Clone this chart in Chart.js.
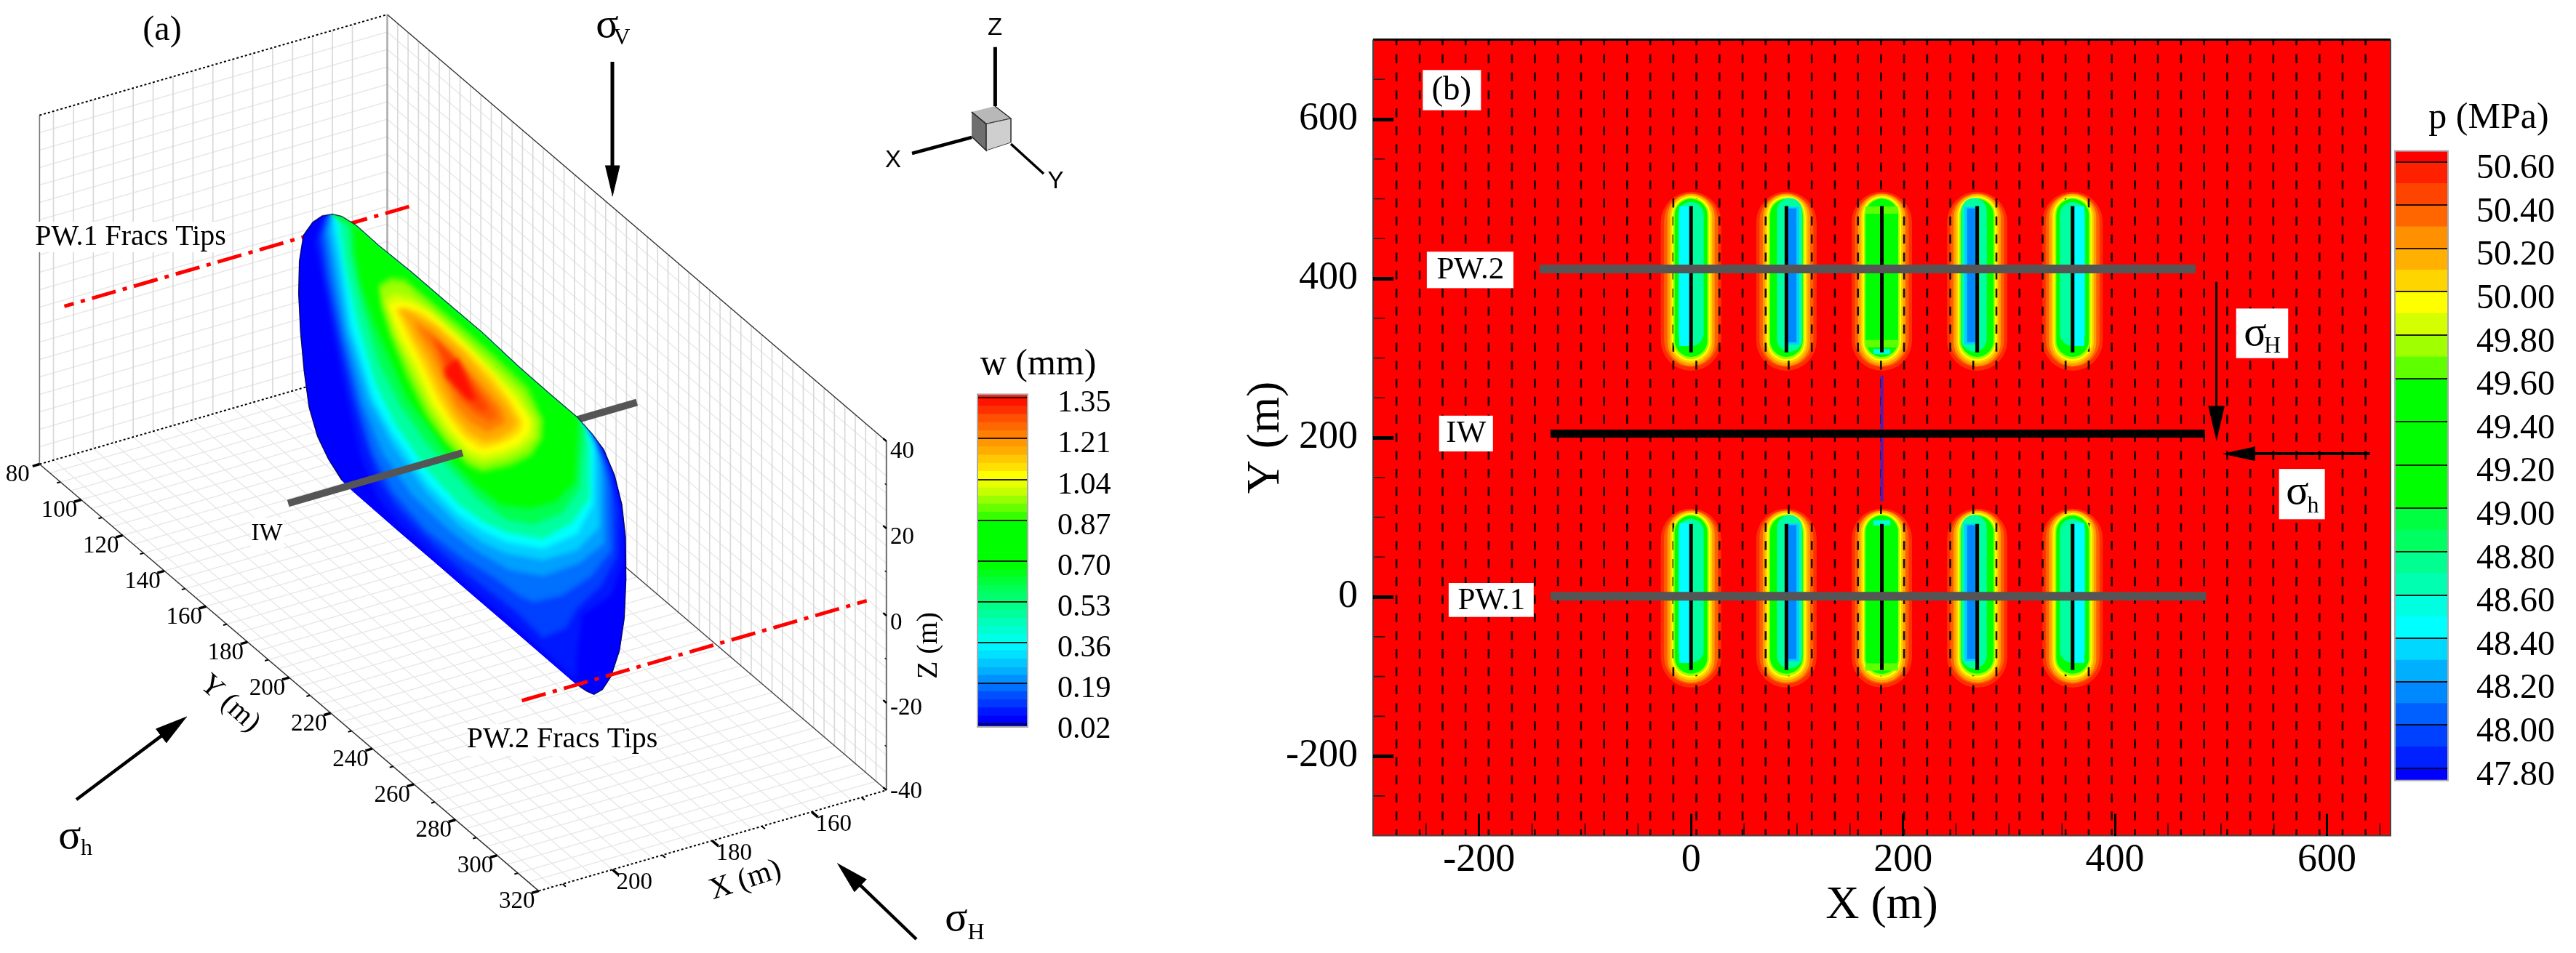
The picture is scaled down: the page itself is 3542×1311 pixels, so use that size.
<!DOCTYPE html>
<html><head><meta charset="utf-8">
<style>html,body{margin:0;padding:0;background:#fff;width:3542px;height:1311px;overflow:hidden}canvas{position:absolute;display:block}</style>
<script src="https://cdn.jsdelivr.net/npm/chart.js@4"></script>
</head><body>
<canvas id="a" width="1680" height="1311" style="left:0;top:0"></canvas>
<canvas id="wbar" width="200" height="1311" style="left:1343px;top:0"></canvas>
<canvas id="b" width="1612" height="1311" style="left:1680px;top:0"></canvas>
<canvas id="pbar" width="250" height="1311" style="left:3292px;top:0"></canvas>
<script>
const SERIF='"Liberation Serif"', SANS='"Liberation Sans"';

/* ---------- panel (a) axes ---------- */
const xAxisTicks=[160,180,200];
const yAxisTicks=[80,100,120,140,160,180,200,220,240,260,280,300,320];
const zAxisTicks=[40,20,0,-20,-40];
const zLabelDrop=[14,12,10,7,2];
const yMinorTicks=[90,110,130,150,170,190,210,230,250,270,290,310];
const xMinorTicks=[150,170,190,210];
const zMinorTicks=[30,10,-10,-30];
const gridX=[152,156,160,164,168,172,176,180,184,188,192,196,200,204,208,212];
const gridY=[85,90,95,100,105,110,115,120,125,130,135,140,145,150,155,160,165,170,175,180,185,190,195,200,205,210,215,220,225,230,235,240,245,250,255,260,265,270,275,280,285,290,295,300,305,310,315];
const gridZ=[-36,-32,-28,-24,-20,-16,-12,-8,-4,0,4,8,12,16,20,24,28,32,36];

/* wells in model coordinates (X, Y, Z in m) */
const pw1Tips=[[214,90,0],[144.8,90,0]];
const pw2Tips=[[214,310,-0.7],[144.8,310,-0.7]];
const iwBack=[[180,200,0],[145,200,0]];
const iwFront=[[215,200,0],[180,200,0]];

/* fracture width contours, traced in fracture-plane units */
const fracOutline=[[230,55],[270,62],[330,90],[420,150],[560,235],[700,325],[850,420],[1000,525],[1130,610],[1240,680],[1300,730],[1350,780],[1395,860],[1425,950],[1440,1050],[1442,1180],[1435,1300],[1415,1400],[1380,1480],[1345,1520],[1310,1535],[1280,1525],[1240,1505],[1100,1415],[950,1318],[800,1222],[650,1125],[500,1029],[310,905],[270,875],[215,810],[170,740],[135,650],[115,540],[100,420],[92,300],[95,200],[112,120],[150,80],[190,60]];
const fracTopEdge=[[230,55],[270,62],[330,90],[420,150],[560,235],[700,325],[850,420],[1000,525],[1130,610],[1240,680]];
const fracLower=[
 [[1340,775],[1390,860],[1420,950],[1428,1000],[1425,1130],[1380,1230],[1260,1290],[1240,1400],[1235,1490],[1100,1400],[1000,1330],[800,1205],[650,1108],[500,1000],[420,930],[350,800],[300,640],[240,440],[190,250],[160,140],[190,70]],
 [[1325,755],[1375,850],[1400,960],[1400,1110],[1340,1200],[1240,1270],[1195,1330],[1100,1360],[1000,1285],[800,1170],[650,1075],[500,960],[430,880],[370,760],[315,620],[255,430],[205,250],[180,130],[205,65]],
 [[1310,745],[1355,830],[1375,900],[1380,1090],[1300,1170],[1180,1230],[1060,1250],[1000,1230],[900,1175],[760,1110],[620,1030],[480,910],[400,790],[340,640],[270,430],[220,250],[195,120],[215,62]],
 [[1295,730],[1335,800],[1350,860],[1350,1070],[1250,1130],[1100,1170],[960,1150],[820,1090],[700,1020],[560,920],[440,790],[360,640],[285,430],[235,230],[210,110],[225,60]],
 [[1280,715],[1315,780],[1330,820],[1330,1020],[1240,1090],[1100,1120],[950,1100],[850,1065],[750,1010],[620,910],[480,765],[385,630],[295,410],[250,210],[225,100],[233,60]],
 [[1265,705],[1305,760],[1310,780],[1305,950],[1240,1040],[1100,1085],[950,1065],[850,1030],[750,980],[620,880],[480,730],[400,620],[310,400],[270,200],[245,100],[240,70]],
 [[1290,760],[1290,930],[1220,1005],[1100,1055],[950,1035],[850,1000],[750,945],[620,840],[490,700],[410,575],[340,400],[285,220],[262,100],[260,72]],
 [[1270,720],[1250,900],[1180,975],[1060,1010],[950,995],[830,930],[720,840],[620,760],[510,640],[430,520],[360,350],[310,180],[300,85]],
 [[1245,690],[1230,880],[1150,940],[1050,960],[930,950],[820,890],[720,810],[640,720],[540,620],[470,500],[410,400],[350,270],[325,170],[320,95]]
];
const fracInner=[
 [[420,275],[470,250],[530,255],[600,300],[760,400],[900,490],[1040,590],[1100,690],[1095,750],[1050,800],[970,830],[850,850],[790,830],[700,760],[620,680],[540,560],[470,430],[430,330]],
 [[430,285],[475,265],[530,270],[600,315],[750,410],[890,505],[1020,600],[1085,690],[1080,745],[1040,785],[960,815],[850,835],[790,815],[700,745],[630,665],[555,550],[480,420],[440,330]],
 [[450,320],[490,300],[545,310],[620,345],[750,430],[880,520],[1000,610],[1060,690],[1060,740],[1010,775],[940,800],[850,815],[790,795],[710,730],[640,650],[570,540],[490,420]],
 [[465,335],[510,325],[570,335],[640,365],[760,445],[870,530],[985,625],[1045,690],[1040,730],[990,765],[920,785],[850,795],[790,775],[720,715],[650,635],[585,525],[510,420]],
 [[490,350],[540,345],[600,360],[680,405],[790,480],[890,555],[970,635],[1015,695],[1005,725],[960,750],[890,770],[845,775],[780,745],[725,695],[665,620],[600,515],[530,410]],
 [[510,345],[570,365],[650,400],[770,480],[880,575],[950,640],[990,695],[970,720],[920,745],[860,755],[790,725],[735,675],[680,600],[620,500],[560,420]],
 [[570,385],[630,415],[730,480],[850,585],[925,650],[945,695],[915,710],[870,725],[800,695],[745,650],[700,580],[640,480],[590,420]],
 [[620,415],[700,475],[815,575],[895,650],[910,680],[880,695],[820,670],[755,625],[710,560],[665,470]],
 [[650,440],[720,490],[790,560],[860,640],[870,665],[825,655],[765,610],[720,550],[685,490]],
 [[745,500],[770,540],[820,625],[790,625],[745,590],[700,555],[695,530]]
];
const fracLowerColors=['#0018ff','#0040ff','#0070ff','#00a0ff','#00d0ff','#00ffff','#00ffa0','#00ff50','#00ff00'];
const fracInnerColors=['#60ff00','#a0ff00','#d4ff00','#ffff00','#ffd500','#ffaa00','#ff8000','#ff6000','#ff4000','#ff1000'];

/* w colour bar */
const wTickValues=[0.02,0.19,0.36,0.53,0.70,0.87,1.04,1.21,1.38];
const wTickLabels=['0.02','0.19','0.36','0.53','0.70','0.87','1.04','1.21','1.35'];
const wBandEdges=[0.008,0.02,0.054,0.088,0.122,0.156,0.19,0.224,0.258,0.292,0.326,0.36,0.394,0.428,0.462,0.496,0.53,0.564,0.598,0.632,0.666,0.70,0.734,0.768,0.802,0.836,0.87,0.904,0.938,0.972,1.006,1.04,1.074,1.108,1.142,1.176,1.21,1.244,1.278,1.312,1.346,1.395];
const wBandColors=['#0000ff','#0000ff','#0018ff','#0038ff','#0050ff','#0070ff','#0090ff','#00b0ff','#00c8ff','#00e0ff','#00f4ff','#00ffe8','#00ffd0','#00ffb8','#00ff9c','#00ff88','#00ff70','#00ff58','#00ff38','#00ff18','#00ff00','#00ff00','#00ff00','#00ff00','#00ff00','#00ff00','#38ff00','#68ff00','#98ff00','#c8ff00','#e8ff00','#ffff00','#ffe000','#ffc800','#ffac00','#ff9800','#ff8000','#ff6800','#ff5000','#ff3000','#ff1400'];

/* ---------- panel (b) data ---------- */
const bXTicks=[-200,0,200,400,600];
const bYTicks=[-200,0,200,400,600];
const bXMinor=[-250,-150,-100,-50,50,100,150,250,300,350,450,500,550,650];
const bYMinor=[-250,-150,-100,-50,50,100,150,250,300,350,450,500,550,650];
const fracX=[0,90,180,270,360];
const fracUpperSpan=[307,491];
const fracLowerSpan=[-92,91.5];
const haloUpper=[[322,471],[322.5,473],[320,476.5],[320,478],[320.5,479],[321,479],[322,479.5]];
const haloLower=[[-76,73],[-75.5,75],[-78,78.5],[-78,80],[-77.5,81],[-77,81],[-76,81.5]];
const haloColors=['#ff3000','#ff6000','#ffa000','#ffd000','#ffff00','#a0ff00','#00ff00'];
const haloWidths=[83,74,65,58,53,49,45];
const vectorColumns=[-278,-256,-234.5,-212.7,-191,-169,-147.4,-125.6,-103.8,-82,-60.3,-38.5,-16.7,5,26.8,48.6,70.4,92.1,113.9,135.7,157.5,179.2,201,222.8,244.6,266.3,288.1,309.9,331.7,353.4,375.2,397,418.8,440.5,462.3,484.1,505.9,527.6,549.4,571.2,593,614.7,636.5];
const pw2Bar=[[-143,412],[476,412]];
const iwBar=[[-132.6,205],[484.8,205]];
const pw1Bar=[[-132.6,0.8],[486,0.8]];
const iwFrac=[[180,278],[180,120]];
const sigHShaft=[[495.6,395.6],[495.6,225]];
const sigHHead=[[488.1,239.4],[503.1,239.4],[495.6,196.4]];
const sigLowShaft=[[640.5,180],[520,180]];
const sigLowHead=[[531.7,188.7],[531.7,171.3],[501.7,180]];
/* inner bands: x, low, high */
const innerRound=[[0,331,480],[93,324,485],[267,324,485],[360,331,480],
                  [0,-67,82],[93,-74,87],[267,-74,87],[360,-67,82]];
const innerRoundColor='#00ffa0';
const innerCyan=[[-5.7,315,491],[365.7,315,491],[-5.7,-83,93],[365.7,-83,93]];
const innerSky=[[96.3,317,490],[263.7,317,490],[96.3,-81,92],[263.7,-81,92]];
const innerBlue=[[95.7,320,488],[264.3,320,488],[95.7,-78,90],[264.3,-78,90]];
const midLight=[[[164.4,485.8],[195.3,485.8]],[[164.4,318],[195.3,318]],[[164.4,-88],[195.3,-88]]];
const midCyan=[[[172,308],[188,308]],[[172,93],[188,93]]];

/* p colour bar */
const pTickValues=[47.8,48.0,48.2,48.4,48.6,48.8,49.0,49.2,49.4,49.6,49.8,50.0,50.2,50.4,50.6];
const pBandEdges=[47.744,47.8,47.9,48.0,48.1,48.2,48.3,48.4,48.5,48.6,48.7,48.8,48.9,49.0,49.6,49.7,49.8,49.9,50.0,50.1,50.2,50.3,50.4,50.5,50.6,50.65];
const pBandColors=['#0000ff','#0020ff','#0040ff','#0060ff','#0088ff','#00b0ff','#00d8ff','#00ffff','#00ffe0','#00ffb0','#00ff90','#00ff60','#00ff40','#00ff00','#60ff00','#a0ff00','#d4ff00','#ffff00','#ffd500','#ffb000','#ff9000','#ff6600','#ff4400','#ff2000','#ff0000'];

/* ---------- helpers ---------- */
Chart.defaults.animation=false;
Chart.defaults.responsive=false;
Chart.defaults.devicePixelRatio=1;
Chart.defaults.plugins.legend.display=false;
Chart.defaults.plugins.tooltip.enabled=false;
Chart.defaults.events=[];

const P=(X,Y,Z)=>[532.5+(X-145)*-6.85+(Y-80)*2.86, 20+(X-145)*1.985+(Y-80)*2.446+(40-Z)*6];
const pts=a=>a.map(p=>({x:p[0],y:p[1]}));
function line(a,color,width,o){return Object.assign({type:'line',data:pts(a),borderColor:color,borderWidth:width,pointRadius:0,tension:0,fill:false,clip:false},o||{});}
function poly(a,color,o){return Object.assign({type:'line',data:pts(a),borderColor:color,backgroundColor:color,borderWidth:1,pointRadius:0,tension:0,fill:'shape',clip:false},o||{});}
function segs(list){const out=[];list.forEach(s=>{s.forEach(p=>out.push(p));out.push([s[s.length-1][0],null]);});return out;}
function arrow(tail,tip,len,wid,lw){
  const dx=tip[0]-tail[0],dy=tip[1]-tail[1],n=Math.hypot(dx,dy),ux=dx/n,uy=dy/n;
  const bx=tip[0]-ux*len,by=tip[1]-uy*len;
  return [line([tail,[tip[0]-ux*len*0.6,tip[1]-uy*len*0.6]],'#000',lw),
          poly([[bx-uy*wid/2,by+ux*wid/2],[bx+uy*wid/2,by-ux*wid/2],tip],'#000')];
}
const T=(t,x,y,size,o)=>Object.assign({t,x,y,size},o||{});
const textPlugin={id:'texts',afterDatasetsDraw(chart,args,opts){
  const ctx=chart.ctx,sx=opts.data?chart.scales.x:null,sy=opts.data?chart.scales.y:null;
  const X=v=>sx?sx.getPixelForValue(v):v,Y=v=>sy?sy.getPixelForValue(v):v;
  (opts.boxes||[]).forEach(b=>{const x0=X(b[0]),x1=X(b[1]),y0=Y(b[2]),y1=Y(b[3]);ctx.fillStyle='#fff';ctx.fillRect(Math.min(x0,x1),Math.min(y0,y1),Math.abs(x1-x0),Math.abs(y1-y0));});
  (opts.items||[]).forEach(i=>{ctx.save();ctx.translate(X(i.x),Y(i.y));if(i.rot)ctx.rotate(i.rot*Math.PI/180);
    ctx.font=i.size+'px '+(i.font||SERIF);ctx.fillStyle='#000';ctx.textAlign=i.align||'center';ctx.textBaseline='middle';ctx.fillText(i.t,0,0);ctx.restore();});
}};
const framePlugin={id:'frame',afterDraw(chart,args,opts){if(!opts.color)return;const a=chart.chartArea,c=chart.ctx;c.save();c.strokeStyle=opts.color;c.lineWidth=2;c.strokeRect(a.left+1,a.top,a.right-a.left-2,a.bottom-a.top);c.restore();}};
/* softens the contour steps inside the fracture outline */
const softPlugin={id:'soft',afterDatasetDraw(chart,args){
  const d=chart.data.datasets[args.index],c=chart.ctx;
  if(d.softStart){c.save();c.beginPath();args.meta.data.forEach((e,i)=>{if(i)c.lineTo(e.x,e.y);else c.moveTo(e.x,e.y);});c.closePath();c.clip();c.filter='blur(3px)';}
  if(d.softEnd){c.restore();}
}};
Chart.register(textPlugin,framePlugin,softPlugin);

/* ---------- panel (a) ---------- */
const XA=145,XB=214.8,YA=80,YB=320,ZA=-40,ZB=40;
const ds=[];
const wallLines=[];
gridZ.forEach(z=>{wallLines.push([P(XA,YA,z),P(XB,YA,z)]);wallLines.push([P(XA,YA,z),P(XA,YB,z)]);});
const floorLines=[];
gridX.forEach(x=>floorLines.push([P(x,YA,ZA),P(x,YB,ZA)]));
gridY.forEach(y=>floorLines.push([P(XA,y,ZA),P(XB,y,ZA)]));
const vertLines=[];
gridX.forEach(x=>vertLines.push([P(x,YA,ZA),P(x,YA,ZB)]));
gridY.forEach(y=>vertLines.push([P(XA,y,ZA),P(XA,y,ZB)]));
ds.push(line(segs(wallLines),'#e8e8e8',1.5));
ds.push(line(segs(floorLines),'#e6e6e6',1.3));
ds.push(line(segs(vertLines),'#d8d8d8',1.6));
/* box edges */
ds.push(line([P(XA,YA,ZA),P(XA,YA,ZB)],'#aaa',2.5));
ds.push(line([P(XB,YA,ZA),P(XB,YA,ZB)],'#777',1.6));
ds.push(line([P(XB,YA,ZB),P(XA,YA,ZB)],'#000',2,{borderDash:[3,3]}));
ds.push(line([P(XA,YA,ZB),P(XA,YB,ZB)],'#333',1.5));
ds.push(line([P(XB,YA,ZA),P(XA,YA,ZA)],'#000',2,{borderDash:[3,3]}));
ds.push(line([P(XA,YA,ZA),P(XA,YB,ZA)],'#444',1.5));
ds.push(line([P(XA,YB,ZA),P(XA,YB,ZB)],'#777',2.2));
ds.push(line([P(XB,YA,ZA),P(XB,YB,ZA)],'#333',1.5));
ds.push(line([P(XB,YB,ZA),P(XA,YB,ZA)],'#000',2,{borderDash:[3,3]}));
/* axis ticks */
ds.push(line(segs(yAxisTicks.map(y=>[P(XB,y,ZA),P(XB+1.4,y,ZA)])),'#000',3.5));
ds.push(line(segs(yMinorTicks.map(y=>[P(XB,y,ZA),P(XB+0.7,y,ZA)])),'#000',2));
ds.push(line(segs(xAxisTicks.map(x=>[P(x,YB,ZA),P(x,YB+3,ZA)])),'#000',3.5));
ds.push(line(segs(xMinorTicks.map(x=>[P(x,YB,ZA),P(x,YB+1.5,ZA)])),'#000',2));
ds.push(line(segs(zAxisTicks.map(z=>[P(XA,YB,z),P(XA,YB-1.6,z)])),'#000',2.5));
ds.push(line(segs(zMinorTicks.map(z=>[P(XA,YB,z),P(XA,YB-0.8,z)])),'#333',1.6));
/* PW.1 tips and well behind the fracture */
const redDash={borderDash:[34,10,6,10],borderCapStyle:'butt'};
ds.push(line(pw1Tips.map(p=>P(p[0],p[1],p[2])).reverse(),'#ff0000',5,Object.assign({},redDash)));
ds.push(line(iwBack.map(p=>P(p[0],p[1],p[2])),'#555',10));
/* fracture */
const fr={xAxisID:'fx',yAxisID:'fy'};
ds.push(poly(fracOutline,'#0000ff',Object.assign({softStart:true},fr)));
fracLower.forEach((low,i)=>ds.push(poly(fracTopEdge.concat(low),fracLowerColors[i],fr)));
fracInner.forEach((c,i)=>ds.push(poly(c,fracInnerColors[i],Object.assign({softEnd:i===fracInner.length-1},fr))));
ds.push(line(fracOutline.slice(29).concat(fracOutline.slice(0,23)),'rgba(0,0,0,.55)',1.5,fr));
/* front well, PW.2 tips */
ds.push(line(iwFront.map(p=>P(p[0],p[1],p[2])),'#555',10));
ds.push(line(pw2Tips.map(p=>P(p[0],p[1],p[2])),'#ff0000',5,Object.assign({},redDash)));
/* stress arrows */
arrow([842,85],[842,270],42,20,5).forEach(d=>ds.push(d));
arrow([105,1100],[257,986],44,24,4.5).forEach(d=>ds.push(d));
arrow([1260,1292],[1151.5,1187.5],44,24,4.5).forEach(d=>ds.push(d));
/* orientation triad */
ds.push(line([[1368.4,64.7],[1368.4,146]],'#000',5));
ds.push(line([[1336,189],[1254,211]],'#000',4.5));
ds.push(line([[1390,198],[1435,239]],'#000',3.5));
ds.push(poly([[1368,146],[1390,163],[1356,170.5],[1336,154]],'#b8b8b8',{borderColor:'#222',borderWidth:1.5}));
ds.push(poly([[1356,170.5],[1390,163],[1390,196],[1356,207]],'#cfcfcf',{borderColor:'#444',borderWidth:1}));
ds.push(poly([[1336,154],[1356,170.5],[1356,207],[1336,188]],'#6f6f6f',{borderColor:'#222',borderWidth:1.5}));

const aTexts=[
 T('(a)',223,42,48),
 T('σ',835,36,58),T('V',855,53,32),
 T('σ',96,1152,58),T('h',119,1168,32),
 T('σ',1315,1265,58),T('H',1342,1284,32),
 T('PW.1 Fracs Tips',179.5,326,40),
 T('PW.2 Fracs Tips',773,1017,40),
 T('IW',367,734,34),
 T('Y (m)',316,968,40,{rot:42}),
 T('X (m)',1025,1211,42,{rot:-18}),
 T('Z (m)',1277,888,40,{rot:-90}),
 T('Z',1368,39,33,{font:SANS}),T('X',1228,221,33,{font:SANS}),T('Y',1451.5,250,33,{font:SANS})
];
yAxisTicks.forEach(y=>{const p=P(XB,y,ZA);aTexts.push(T(String(y),p[0]-30,p[1]+15,33));});
xAxisTicks.forEach(x=>{const p=P(x,YB,ZA);aTexts.push(T(String(x),p[0]+30,p[1]+18,33));});
zAxisTicks.forEach((z,i)=>{const p=P(XA,YB,z);aTexts.push(T(String(z),1224,p[1]+zLabelDrop[i],33,{align:'left'}));});

new Chart(document.getElementById('a'),{type:'line',data:{datasets:ds.slice().reverse()},options:{
 layout:{padding:0},
 scales:{
  x:{type:'linear',display:false,min:0,max:1680},
  y:{type:'linear',display:false,min:0,max:1311,reverse:true},
  fx:{type:'linear',axis:'x',display:false,min:-1140,max:3900},
  fy:{type:'linear',axis:'y',display:false,min:-604.8,max:2331.84,reverse:true}
 },
 plugins:{texts:{items:aTexts,boxes:[[50,309,305,347],[644,902,996,1040],[345,390,712,756]]}}
}});

/* ---------- colour bars ---------- */
function colorBar(id,edges,colors,tickValues,fmt,width,fontSize,pad,offset,title,titleX,titleY,top,bottom,barW){
 const datasets=colors.map((c,i)=>({data:[[edges[i],edges[i+1]]],backgroundColor:c,borderWidth:0,grouped:false,barPercentage:1,categoryPercentage:1}));
 new Chart(document.getElementById(id),{type:'bar',data:{labels:[title],datasets},options:{
  layout:{padding:{top:top,bottom:bottom,left:0,right:0}},
  scales:{
   x:{display:false},
   y:{position:'right',min:edges[0],max:edges[edges.length-1],
      afterBuildTicks:s=>{s.ticks=tickValues.map(value=>({value}));},
      afterFit:s=>{s.width=width-barW;s.paddingTop=0;s.paddingBottom=0;},
      border:{display:false},
      grid:{display:true,drawTicks:false,color:'rgba(0,0,0,.85)',lineWidth:2,z:1},
      ticks:{autoSkip:false,padding:pad,labelOffset:offset,color:'#000',font:{family:'Liberation Serif',size:fontSize},callback:fmt}}
  },
  plugins:{frame:{color:'#aaa'},texts:{items:[T(title,titleX,titleY,50)]}}
 }});
}
colorBar('wbar',wBandEdges,wBandColors,wTickValues,(v,i)=>wTickLabels[i],200,42,40,8,'w (mm)',84.5,502,542.4,311,71);
colorBar('pbar',pBandEdges,pBandColors,pTickValues,v=>v.toFixed(2),250,48,38,10,'p (MPa)',130,163,207.6,237.3,75);

/* ---------- panel (b) ---------- */
const bd=[];
bd.push(line([[-300,700],[660,700]],'#ff0000',0,{fill:{value:-300},backgroundColor:'#ff0000'}));
function strip(list,color,width,cap){
 const s=[];list.forEach(r=>{s.push([[r[0],r[1]],[r[0],r[2]]]);});
 return line(segs(s),color,width,{borderCapStyle:cap});
}
const haloSeg=i=>{const s=[];fracX.forEach(x=>{s.push([x,haloUpper[i][0],haloUpper[i][1]]);s.push([x,haloLower[i][0],haloLower[i][1]]);});return s;};
for(let i=0;i<5;i++) bd.push(strip(haloSeg(i),haloColors[i],haloWidths[i],'round'));
/* vector columns */
bd.push(line(segs(vectorColumns.map(x=>[[x,700],[x,-300]])),'rgba(0,0,0,.92)',2.6,{borderDash:[12.4,12.4],borderDashOffset:4.7}));
for(let i=5;i<7;i++) bd.push(strip(haloSeg(i),haloColors[i],haloWidths[i],'round'));
/* inner fields */
bd.push(strip(innerRound,innerRoundColor,35,'round'));
bd.push(strip(innerCyan,'#00ffff',16,'butt'));
bd.push(strip(innerSky,'#00d0ff',17,'butt'));
bd.push(strip(innerBlue,'#0088ff',11,'butt'));
/* middle fracture stays green */
bd.push(strip([[180,322,479.5],[180,-76,81.5]],'#00ff00',45,'round'));
bd.push(line(segs(midLight),'#60ff00',10));
bd.push(line(segs(midCyan),'#00ffe0',7));
/* fractures */
const fracSegs=[];fracX.forEach(x=>{fracSegs.push([x,fracUpperSpan[0],fracUpperSpan[1]]);fracSegs.push([x,fracLowerSpan[0],fracLowerSpan[1]]);});
bd.push(strip(fracSegs,'#000',5,'butt'));
bd.push(line(iwFrac,'#4a1fb8',4));
/* wells */
bd.push(line(pw2Bar,'#555',12));
bd.push(line(pw1Bar,'#555',12));
bd.push(line(iwBar,'#000',11));
/* minor ticks */
bd.push(line(segs(bYMinor.map(y=>[[-300,y],[-289,y]])),'#111',1.6));
bd.push(line(segs(bXMinor.map(x=>[[x,-300],[x,-284.5]])),'#111',1.6));
/* frame */
bd.push(line([[-300,700],[660,700]],'#000',3));
bd.push(line([[-300,700],[-300,-300],[660,-300],[660,700]],'#444',2));
/* arrows */
bd.push(line(sigHShaft,'#000',3));
bd.push(poly(sigHHead,'#000'));
bd.push(line(sigLowShaft,'#000',4));
bd.push(poly(sigLowHead,'#000'));

const bBoxes=[[-253.1,-198.2,661.8,611.3],[-249.3,-167.6,433.6,387.8],[-237.7,-186.9,227.6,182.7],[-228.7,-148.5,17.4,-25.2],[514.3,563.4,362.2,299.9],[554.8,598,160.7,97.5]];
const bTexts=[T('(b)',-226,636,47),T('PW.2',-208.2,410.6,43),T('IW',-212.3,204.6,43),T('PW.1',-188.3,-5,43),
 T('σ',532.2,330.1,58),T('H',548.5,315,32),T('σ',572,130.5,58),T('h',587,113.5,32)];
const tickFont={family:'Liberation Serif',size:54};
new Chart(document.getElementById('b'),{type:'line',data:{datasets:bd.slice().reverse()},options:{
 layout:{padding:{top:54.5,right:5,left:0,bottom:0}},
 scales:{
  x:{type:'linear',min:-300,max:660,
     afterBuildTicks:s=>{s.ticks=bXTicks.map(value=>({value}));},
     afterFit:s=>{s.height=161.4;s.paddingLeft=0;s.paddingRight=0;},
     border:{display:false},
     grid:{display:true,drawOnChartArea:false,drawTicks:true,tickLength:-30,tickWidth:3,tickColor:'#000',z:1},
     ticks:{autoSkip:false,maxRotation:0,color:'#000',font:tickFont,padding:32},
     title:{display:true,text:'X (m)',color:'#000',font:{family:'Liberation Serif',size:64},padding:{top:0,bottom:26}}},
  y:{type:'linear',min:-300,max:700,
     afterBuildTicks:s=>{s.ticks=bYTicks.map(value=>({value}));},
     afterFit:s=>{s.width=208;s.paddingTop=0;s.paddingBottom=0;},
     border:{display:false},
     grid:{display:true,drawOnChartArea:false,drawTicks:true,tickLength:-28,tickWidth:5,tickColor:'#000',z:1},
     ticks:{autoSkip:false,color:'#000',font:tickFont,padding:49},
     title:{display:true,text:'Y (m)',color:'#000',font:{family:'Liberation Serif',size:64},padding:{top:22.6,bottom:0}}}
 },
 plugins:{texts:{data:true,items:bTexts,boxes:bBoxes}}
}});
</script>
</body></html>
